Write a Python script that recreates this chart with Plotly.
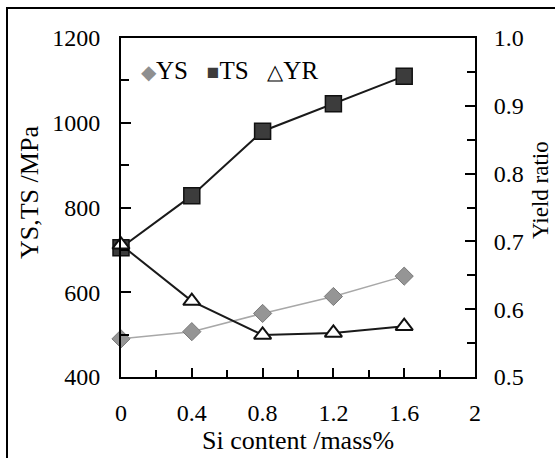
import plotly.graph_objects as go

# Si content (mass%) and measured properties
si_content = [0, 0.4, 0.8, 1.2, 1.6]
ys_mpa = [490, 507, 550, 590, 638]
ts_mpa = [705, 828, 980, 1045, 1110]
yield_ratio = [0.695, 0.612, 0.562, 0.565, 0.575]

x_tick_vals = [0, 0.4, 0.8, 1.2, 1.6, 2.0]
x_tick_text = ["0", "0.4", "0.8", "1.2", "1.6", "2"]
left_ticks = [400, 600, 800, 1000, 1200]
right_ticks = [0.5, 0.6, 0.7, 0.8, 0.9, 1.0]
right_tick_text = ["0.5", "0.6", "0.7", "0.8", "0.9", "1.0"]

FONT = "Liberation Serif"
TICK_SIZE = 24
TITLE_SIZE = 26

# plot-area geometry in pixels
L, R, T, B = 121, 80, 38, 81
W, H = 555, 458
PW, PH = W - L - R, H - T - B


def px_x(p):
    return (p - L) / PW


def px_y(p):
    return (H - B - p) / PH


fig = go.Figure()

fig.add_trace(go.Scatter(
    x=si_content, y=ys_mpa, name="YS", mode="lines+markers", cliponaxis=False,
    line=dict(color="#a8a8a8", width=1.5),
    marker=dict(symbol="diamond", size=14, color="#959595",
                line=dict(color="#7a7a7a", width=1)),
))
fig.add_trace(go.Scatter(
    x=si_content, y=ts_mpa, name="TS", mode="lines+markers", cliponaxis=False,
    line=dict(color="#1a1a1a", width=2),
    marker=dict(symbol="square", size=16, color="#3c3c3c",
                line=dict(color="#111111", width=1.5)),
))
fig.add_trace(go.Scatter(
    x=si_content, y=yield_ratio, name="YR", mode="lines+markers", yaxis="y2",
    cliponaxis=False,
    line=dict(color="#1a1a1a", width=2),
    marker=dict(symbol="triangle-up", size=15, color="white",
                line=dict(color="#111111", width=2)),
))

axis_common = dict(
    showline=True, linecolor="black", linewidth=2,
    ticks="inside", tickcolor="black", tickwidth=2,
    showgrid=False, zeroline=False,
    tickfont=dict(family=FONT, size=TICK_SIZE, color="black"),
)

fig.update_layout(
    width=W, height=H,
    margin=dict(l=L, r=R, t=T, b=B),
    paper_bgcolor="white", plot_bgcolor="white",
    showlegend=False,
    font=dict(family=FONT, color="black"),
    xaxis=dict(
        range=[0, 2.0], tickvals=x_tick_vals, ticktext=x_tick_text,
        ticklen=9, mirror=True, ticklabelstandoff=13,
        minor=dict(dtick=0.2, tick0=0, ticks="inside", ticklen=7,
                   tickcolor="black", tickwidth=2),
        title=dict(text="Si content /mass%", standoff=0,
                   font=dict(family=FONT, size=TITLE_SIZE)),
        **axis_common,
    ),
    yaxis=dict(
        range=[400, 1200], tickvals=left_ticks, ticklen=10,
        ticklabelstandoff=14,
        minor=dict(dtick=100, tick0=400, ticks="inside", ticklen=8,
                   tickcolor="black", tickwidth=2),
        **axis_common,
    ),
    yaxis2=dict(
        range=[0.5, 1.0], tickvals=right_ticks, ticktext=right_tick_text,
        overlaying="y", side="right", ticklen=10, ticklabelstandoff=12,
        minor=dict(dtick=0.05, tick0=0.5, ticks="inside", ticklen=8,
                   tickcolor="black", tickwidth=2),
        **axis_common,
    ),
)

# Vertical axis titles
fig.add_annotation(
    xref="paper", yref="paper", x=px_x(29), y=px_y(193),
    xanchor="center", yanchor="middle", showarrow=False, textangle=-90,
    text="YS,TS /MPa", font=dict(family=FONT, size=TITLE_SIZE, color="black"),
)
fig.add_annotation(
    xref="paper", yref="paper", x=px_x(540), y=px_y(190),
    xanchor="center", yanchor="middle", showarrow=False, textangle=-90,
    text="Yield ratio", font=dict(family=FONT, size=23, color="black"),
)

# Legend row inside the plot area
fig.add_annotation(
    xref="paper", yref="paper", x=px_x(139), y=px_y(70),
    xanchor="left", yanchor="middle", showarrow=False,
    text=('<span style="color:#8f8f8f;font-size:20px">◆</span>YS&nbsp;&nbsp;&nbsp;'
          '<span style="color:#3c3c3c;font-size:21px">■</span>TS&nbsp;&nbsp;&nbsp;'
          '<span style="font-size:21px">△</span>YR'),
    font=dict(family=FONT, size=25, color="black"),
)

# Outer figure frame
fig.add_shape(
    type="rect", xref="paper", yref="paper",
    x0=px_x(7), x1=px_x(565), y0=px_y(470), y1=px_y(8),
    line=dict(color="black", width=2), fillcolor="rgba(0,0,0,0)",
    layer="below",
)

fig.write_html("out.html")
